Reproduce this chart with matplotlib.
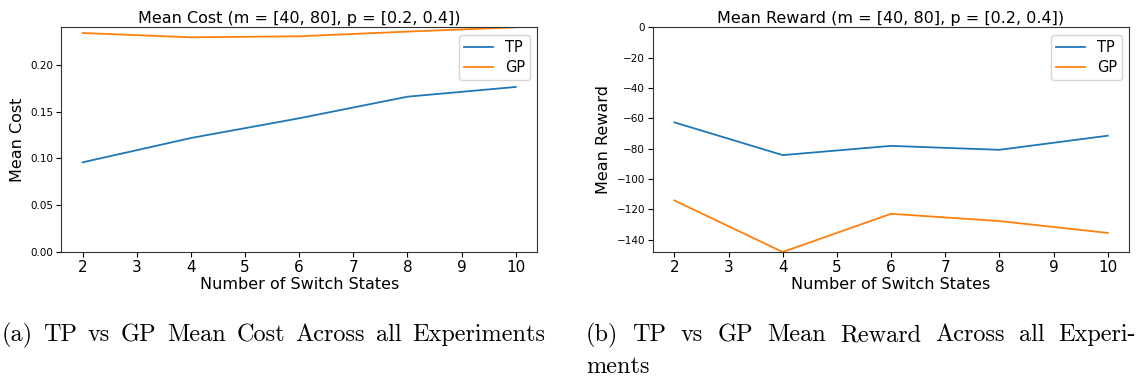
import matplotlib
matplotlib.use("Agg")
import matplotlib.pyplot as plt

switch_states = [2, 4, 6, 8, 10]
cost_tp = [0.0959, 0.1219, 0.1430, 0.1661, 0.1765]
cost_gp = [0.2342, 0.2296, 0.2307, 0.2357, 0.2403]
reward_tp = [-62.7, -84.3, -78.2, -80.8, -71.5]
reward_gp = [-114.2, -148.2, -123.0, -127.8, -135.6]

title_cost = "Mean Cost (m = [40, 80], p = [0.2, 0.4])"
title_reward = "Mean Reward (m = [40, 80], p = [0.2, 0.4])"
caption_a = "(a) TP vs GP Mean Cost Across all Experiments"
caption_b1 = "(b) TP vs GP Mean Reward Across all Experi-"
caption_b2 = "ments"

W, H = 1136, 379
fig = plt.figure(figsize=(W / 100, H / 100), dpi=100)

def px_axes(l, t, r, b):
    return fig.add_axes([l / W, 1 - b / H, (r - l) / W, (b - t) / H])

ax1 = px_axes(61, 27.3, 537.4, 252)
ax2 = px_axes(652.7, 27.3, 1129.4, 252)

blue, orange = "#1f77b4", "#ff7f0e"

for ax, tp, gp, title, ylabel in [
    (ax1, cost_tp, cost_gp, title_cost, "Mean Cost"),
    (ax2, reward_tp, reward_gp, title_reward, "Mean Reward"),
]:
    ax.plot(switch_states, tp, color=blue, lw=1.3, label="TP")
    ax.plot(switch_states, gp, color=orange, lw=1.3, label="GP")
    ax.set_title(title, fontsize=11.5, pad=3)
    ax.set_xlabel("Number of Switch States", fontsize=11.5, labelpad=2)
    ax.set_ylabel(ylabel, fontsize=11.5, labelpad=4)
    ax.set_xticks(range(2, 11))
    ax.tick_params(axis="x", labelsize=11, length=3.5, pad=2)
    ax.tick_params(axis="y", labelsize=7.5, length=3.5, pad=2)
    ax.legend(loc="upper right", fontsize=10.5, handlelength=2.0,
              borderaxespad=0.5, framealpha=0.8, labelspacing=0.35,
              borderpad=0.35)
    for s in ax.spines.values():
        s.set_color("#333333")

ax1.set_ylim(0, max(cost_gp))
ax1.set_yticks([0.0, 0.05, 0.10, 0.15, 0.20])
ax1.yaxis.set_major_formatter(matplotlib.ticker.FormatStrFormatter("%.2f"))
ax2.set_ylim(min(reward_gp), 0)
ax2.set_yticks(range(-140, 1, 20))

cap_font = dict(family="cmr10", fontsize=17.5, va="baseline", ha="left")

def justified(text, x0, x1, y):
    words = text.split(" ")
    renderer = fig.canvas.get_renderer()
    objs = [fig.text(0, 1 - y / H, w, **cap_font) for w in words]
    widths = [o.get_window_extent(renderer).width for o in objs]
    gap = (x1 - x0 - sum(widths)) / (len(words) - 1)
    x = x0
    for o, w in zip(objs, widths):
        o.set_x(x / W)
        x += w + gap

justified(caption_a, 1.5, 545, 341)
justified(caption_b1, 586, 1136, 341)
fig.text(586 / W, 1 - 373 / H, caption_b2, **cap_font)

fig.savefig("out.png", dpi=100)
